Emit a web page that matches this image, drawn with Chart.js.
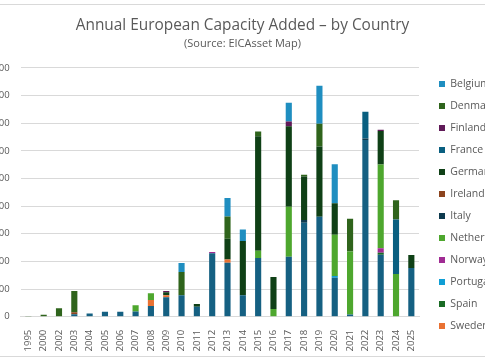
<!DOCTYPE html>
<html><head><meta charset="utf-8">
<script src="https://cdn.jsdelivr.net/npm/chart.js@4.4.1/dist/chart.umd.min.js"></script>
<style>
html,body{margin:0;padding:0;background:#fff;overflow:hidden;width:485px;height:360px;}
#wrap{position:relative;width:485px;height:360px;overflow:hidden;background:#fff;}
#c{position:absolute;left:-30px;top:0;}
.rule{position:absolute;left:0;width:485px;height:1px;background:#d9d9d9;}
</style></head><body>
<div id="wrap">
<canvas id="c" width="560" height="360" style="width:560px;height:360px"></canvas>
<div class="rule" style="top:4px"></div>
<div class="rule" style="top:356px"></div>
</div>
<script>
// ---- data (MW) ----
const years = ['1995','2000','2002','2003','2004','2005','2006','2007','2008','2009','2010','2011','2012','2013','2014','2015','2016','2017','2018','2019','2020','2021','2022','2023','2024','2025'];
const unitedKingdom = [0,0,0,45,60,90,90,95,194,350,390,180,1150,975,390,1060,0,1085,1700,1810,705,40,3195,1120,0,880];
const sweden        = [0,0,0,0,0,0,0,0,110,36,0,0,0,60,0,0,0,0,0,0,0,0,0,0,0,0];
const spain         = [0,0,0,0,0,0,0,0,0,0,0,0,0,0,0,0,0,0,0,0,0,0,0,35,0,0];
const portugal      = [0,0,0,0,0,0,0,0,0,0,0,0,0,0,0,0,0,0,0,0,30,0,0,0,0,0];
const norway        = [0,0,0,0,0,0,0,0,0,0,0,0,20,0,0,0,0,0,0,0,0,0,0,85,0,0];
const netherlands   = [0,0,0,0,0,0,0,114,121,0,0,0,0,0,0,133,140,906,0,0,748,1141,0,1515,774,0];
const italy         = [0,0,0,0,0,0,0,0,0,0,0,0,0,0,0,0,0,0,48,0,0,0,28,0,0,0];
const ireland       = [0,0,0,35,0,0,0,0,0,0,0,0,0,0,0,0,0,0,0,0,0,0,0,0,0,0];
const germany       = [0,0,0,0,0,0,0,0,0,55,0,50,0,375,978,2071,580,1456,790,1268,569,0,0,604,0,236];
const france        = [0,0,0,0,0,0,0,0,0,0,0,0,0,0,0,0,0,0,0,0,0,0,484,0,984,0];
const finland       = [0,0,0,0,0,0,0,0,0,25,0,0,0,0,0,0,0,85,0,0,0,0,0,25,0,0];
const denmark       = [5,36,152,385,0,0,0,0,0,0,417,0,0,404,0,85,0,0,30,411,0,592,0,0,351,0];
const belgium       = [0,0,0,0,0,0,0,0,0,0,163,0,0,333,211,0,0,338,0,690,707,0,0,0,0,0];
const yTicks = [0,500,1000,1500,2000,2500,3000,3500,4000,4500];

const seriesNames = ['United Kingdom','Sweden','Spain','Portugal','Norway','Netherlands','Italy','Ireland','Germany','France','Finland','Denmark','Belgium'];
const seriesData  = [unitedKingdom,sweden,spain,portugal,norway,netherlands,italy,ireland,germany,france,finland,denmark,belgium];
const seriesColors = ['#156082','#E97132','#196B24','#0F9ED5','#A02B93','#4EA72E','#0D3A4E','#8C441E','#0F4016','#095F80','#601A58','#2F641C','#1F8EC0'];

const OFFSET_X = -30;      // canvas left offset in page
const CANVAS_W = 560;
const PLOT_LEFT = 20.7, PLOT_RIGHT = 419;
const TEXT = '#595959';
const FONT = "'Open Sans', sans-serif";

const layoutFix = {
  id: 'layoutFix',
  afterLayout(chart) {
    const cx = 242.5 - OFFSET_X;
    chart.boxes.forEach(b => {
      if (b.position === 'top' && b.options && b.options.text !== undefined && b !== chart.legend) {
        const d = cx - (b.left + b.right) / 2;
        b.left += d; b.right += d;
      }
    });
    const lg = chart.legend;
    if (lg) {
      const pad = lg.options.labels.padding;
      const dx = (439 - OFFSET_X) - pad - lg.left;
      lg.left += dx; lg.right += dx;
      const dy = (84 - 5.25) - pad - lg.top;
      lg.top += dy; lg.bottom += dy;
    }
  }
};

const chart = new Chart(document.getElementById('c'), {
  type: 'bar',
  data: {
    labels: years,
    datasets: seriesNames.map((n, i) => ({
      label: n,
      data: seriesData[i],
      backgroundColor: seriesColors[i],
      borderWidth: 0,
      barPercentage: 0.4,
      categoryPercentage: 1.0
    }))
  },
  options: {
    responsive: false,
    animation: false,
    devicePixelRatio: 1,
    layout: { padding: { left: 0, right: 20, top: 0, bottom: 0 } },
    plugins: {
      title: {
        display: true,
        text: 'Annual European Capacity Added \u2013 by Country',
        color: TEXT,
        font: { family: FONT, size: 15.4, weight: 'normal' },
        padding: { top: 16.8, bottom: 0 }
      },
      subtitle: {
        display: true,
        text: '(Source: EICAsset Map)',
        color: TEXT,
        font: { family: FONT, size: 11, weight: 'normal' },
        padding: { top: 1.8, bottom: 17.7 }
      },
      legend: {
        position: 'right',
        align: 'start',
        reverse: true,
        labels: {
          color: TEXT,
          font: { family: FONT, size: 10.5 },
          boxWidth: 6,
          boxHeight: 6,
          padding: 11.5,
          filter: (item) => item.text !== 'United Kingdom'
        }
      },
      tooltip: { enabled: false }
    },
    scales: {
      x: {
        stacked: true,
        grid: { display: false },
        border: { display: true, color: '#d9d9d9' },
        ticks: { color: TEXT, font: { family: FONT, size: 9.5 }, minRotation: 90, maxRotation: 90, autoSkip: false, padding: 5 },
        afterFit: (s) => { s.height = 43.3; }
      },
      y: {
        stacked: true,
        min: 0, max: 4500,
        afterBuildTicks: (s) => { s.ticks = yTicks.map(v => ({ value: v })); },
        grid: { color: '#d9d9d9', drawTicks: false },
        border: { display: false },
        ticks: { color: TEXT, font: { family: FONT, size: 9.5 }, padding: 11 },
        afterFit: (s) => { s.width = PLOT_LEFT - OFFSET_X; }
      }
    }
  },
  plugins: [layoutFix]
});
// second pass: make plot area end at PLOT_RIGHT
const legW = chart.legend.width;
chart.options.layout.padding.right = CANVAS_W - (PLOT_RIGHT - OFFSET_X) - legW;
chart.update();
</script>
</body></html>
